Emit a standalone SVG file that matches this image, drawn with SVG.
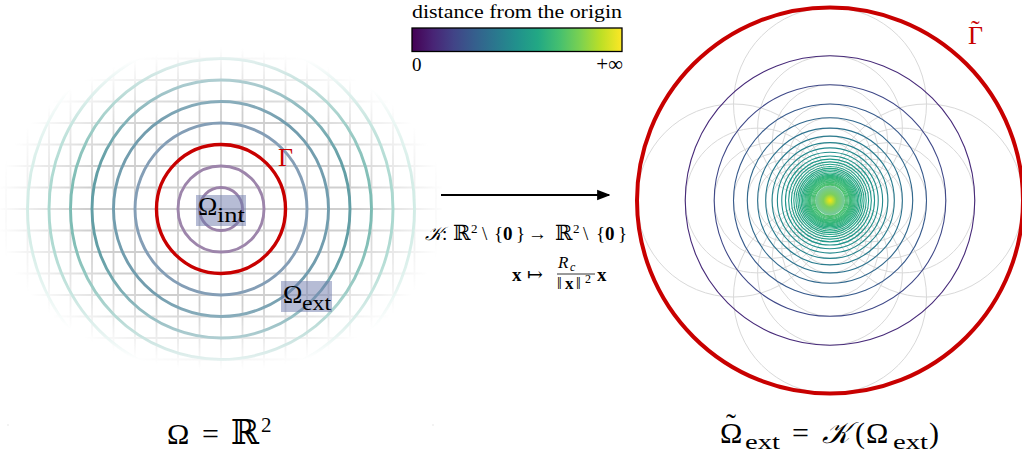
<svg xmlns="http://www.w3.org/2000/svg" width="1022" height="457" viewBox="0 0 1022 457">
<style>
.serif{font-family:"Liberation Serif","DejaVu Serif",serif;fill:#000}
.grid{stroke:#cfcfcf;stroke-width:1.8;fill:none}
.ring{fill:none;stroke-width:2.9}
.gray{fill:none;stroke:#d9d9d9;stroke-width:1}
.vc{fill:none;stroke-width:1.1}
.box{fill:#6e79ab;fill-opacity:0.5}
.red{fill:none;stroke:#c80000}
.redtext{fill:#c80000}
</style>
<defs>
<radialGradient id="fadeGrad" cx="0.5" cy="0.5" r="0.5">
<stop offset="0" stop-color="#fff"/>
<stop offset="0.6" stop-color="#fff"/>
<stop offset="1" stop-color="#000"/>
</radialGradient>
<mask id="fade" maskUnits="userSpaceOnUse" x="0" y="0" width="1022" height="457">
<rect x="-4" y="47" width="450" height="324" fill="url(#fadeGrad)"/>
</mask>
<linearGradient id="viridis" x1="0" y1="0" x2="1" y2="0">
<stop offset="0" stop-color="#440154"/>
<stop offset="0.1" stop-color="#482475"/>
<stop offset="0.2" stop-color="#414487"/>
<stop offset="0.3" stop-color="#355f8d"/>
<stop offset="0.4" stop-color="#2a788e"/>
<stop offset="0.5" stop-color="#21918c"/>
<stop offset="0.6" stop-color="#22a884"/>
<stop offset="0.7" stop-color="#44bf70"/>
<stop offset="0.8" stop-color="#7ad151"/>
<stop offset="0.9" stop-color="#bddf26"/>
<stop offset="1" stop-color="#fde725"/>
</linearGradient>
<radialGradient id="core" cx="0.5" cy="0.5" r="0.5">
<stop offset="0" stop-color="#f2e41c"/>
<stop offset="0.18" stop-color="#c6e02a"/>
<stop offset="0.45" stop-color="#7ccf5c"/>
<stop offset="1" stop-color="#74c9a0"/>
</radialGradient>
<marker id="arrow" viewBox="0 0 10 10" refX="9" refY="5" markerWidth="6" markerHeight="6" orient="auto" markerUnits="strokeWidth">
<path d="M0,1 L10,5 L0,9 Z" fill="#000"/>
</marker>
</defs>
<rect width="1022" height="457" fill="#fff"/>

<g id="left-panel">
<g mask="url(#fade)">
<path class="grid" d="M6 30V390M27.5 30V390M49 30V390M70.5 30V390M92 30V390M113.5 30V390M135 30V390M156.5 30V390M178 30V390M199.5 30V390M221 30V390M242.5 30V390M264 30V390M285.5 30V390M307 30V390M328.5 30V390M350 30V390M371.5 30V390M393 30V390M414.5 30V390M436 30V390M0 37H442M0 58.5H442M0 80H442M0 101.5H442M0 123H442M0 144.5H442M0 166H442M0 187.5H442M0 209H442M0 230.5H442M0 252H442M0 273.5H442M0 295H442M0 316.5H442M0 338H442M0 359.5H442M0 381H442"/>
<circle class="ring" cx="221" cy="209" r="21.5" stroke="#9b82a9"/>
<circle class="ring" cx="221" cy="209" r="43" stroke="#9d85ab"/>
<circle class="ring" cx="221" cy="209" r="86" stroke="#849eb6"/>
<circle class="ring" cx="221" cy="209" r="107.5" stroke="#729dae"/>
<circle class="ring" cx="221" cy="209" r="129" stroke="#629ea5"/>
<circle class="ring" cx="221" cy="209" r="150.5" stroke="#62aea4"/>
<circle class="ring" cx="221" cy="209" r="172" stroke="#70bdae"/>
<circle class="ring" cx="221" cy="209" r="193.5" stroke="#80c9b8"/>
</g>
<circle class="red" cx="221" cy="209" r="64.5" stroke-width="3.4"/>
<text class="serif redtext" x="278" y="166" font-size="26">Γ</text>
<g id="omega-int">
<rect class="box" x="196" y="195" width="50" height="31"/>
<text class="serif" font-size="26"><tspan x="198" y="215">Ω</tspan><tspan x="217" y="222" font-size="20" textLength="28" lengthAdjust="spacingAndGlyphs">int</tspan></text>
</g>
<g id="omega-ext">
<rect class="box" x="281" y="281" width="51" height="31"/>
<text class="serif" font-size="26"><tspan x="283" y="303">Ω</tspan><tspan x="302" y="310" font-size="20" textLength="29" lengthAdjust="spacingAndGlyphs">ext</tspan></text>
</g>
<rect x="7.5" y="424.5" width="1" height="1" fill="#d0d0d0"/>
<rect x="432.5" y="424.5" width="1" height="1" fill="#d0d0d0"/>
<text class="serif" font-size="30"><tspan x="167" y="444">Ω</tspan><tspan x="202" y="444">=</tspan><tspan x="231" y="444" font-size="34">ℝ</tspan><tspan x="261" y="432" font-size="21">2</tspan></text>
</g>

<g id="colorbar">
<text class="serif" x="412" y="18" font-size="18" textLength="210" lengthAdjust="spacingAndGlyphs">distance from the origin</text>
<rect x="412" y="28" width="210" height="23.5" fill="url(#viridis)" stroke="#000" stroke-width="1.3"/>
<text class="serif" x="412" y="71" font-size="19">0</text>
<text class="serif" x="623" y="71" font-size="21" text-anchor="end">+∞</text>
</g>

<g id="connectors">
<line x1="441" y1="195" x2="609" y2="195" stroke="#000" stroke-width="2.2" marker-end="url(#arrow)"/>
</g>

<g id="map-label">
<text class="serif" font-size="19"><tspan x="425" y="240" font-style="italic">𝒦</tspan><tspan x="442" y="240">:</tspan><tspan x="453" y="240" font-size="21">ℝ</tspan><tspan x="471" y="233" font-size="13">2</tspan><tspan x="482" y="240">\</tspan><tspan x="494" y="240">{</tspan><tspan x="503" y="240" font-weight="bold">0</tspan><tspan x="516" y="240">}</tspan><tspan x="528" y="240">→</tspan><tspan x="555" y="240" font-size="21">ℝ</tspan><tspan x="573" y="233" font-size="13">2</tspan><tspan x="583" y="240">\</tspan><tspan x="596" y="240">{</tspan><tspan x="605" y="240" font-weight="bold">0</tspan><tspan x="618" y="240">}</tspan></text>
<text class="serif" font-size="19"><tspan x="512" y="281" font-weight="bold">x</tspan><tspan x="527" y="281">↦</tspan><tspan x="558" y="268" font-style="italic" font-size="17">R</tspan><tspan x="570" y="271" font-style="italic" font-size="12">c</tspan><tspan x="557" y="289" font-size="17">‖</tspan><tspan x="565" y="289" font-size="17" font-weight="bold">x</tspan><tspan x="576" y="289" font-size="17">‖</tspan><tspan x="585" y="283" font-size="12">2</tspan><tspan x="597" y="281" font-weight="bold">x</tspan></text>
<line x1="557" y1="274" x2="595" y2="274" stroke="#000" stroke-width="0.8"/>
</g>

<g id="right-panel">
<g id="gray-circles">
<circle class="gray" cx="926.5" cy="200.5" r="96.5"/><circle class="gray" cx="733.5" cy="200.5" r="96.5"/><circle class="gray" cx="830" cy="104" r="96.5"/><circle class="gray" cx="830" cy="297" r="96.5"/>
<circle class="gray" cx="902.38" cy="200.5" r="72.38"/><circle class="gray" cx="757.62" cy="200.5" r="72.38"/><circle class="gray" cx="830" cy="128.12" r="72.38"/><circle class="gray" cx="830" cy="272.88" r="72.38"/>
<circle class="gray" cx="887.9" cy="200.5" r="57.9"/><circle class="gray" cx="772.1" cy="200.5" r="57.9"/><circle class="gray" cx="830" cy="142.6" r="57.9"/><circle class="gray" cx="830" cy="258.4" r="57.9"/>
<circle class="gray" cx="878.25" cy="200.5" r="48.25"/><circle class="gray" cx="781.75" cy="200.5" r="48.25"/><circle class="gray" cx="830" cy="152.25" r="48.25"/><circle class="gray" cx="830" cy="248.75" r="48.25"/>
<circle class="gray" cx="871.36" cy="200.5" r="41.36"/><circle class="gray" cx="788.64" cy="200.5" r="41.36"/><circle class="gray" cx="830" cy="159.14" r="41.36"/><circle class="gray" cx="830" cy="241.86" r="41.36"/>
<circle class="gray" cx="866.19" cy="200.5" r="36.19"/><circle class="gray" cx="793.81" cy="200.5" r="36.19"/><circle class="gray" cx="830" cy="164.31" r="36.19"/><circle class="gray" cx="830" cy="236.69" r="36.19"/>
<circle class="gray" cx="862.17" cy="200.5" r="32.17"/><circle class="gray" cx="797.83" cy="200.5" r="32.17"/><circle class="gray" cx="830" cy="168.33" r="32.17"/><circle class="gray" cx="830" cy="232.67" r="32.17"/>
<circle class="gray" cx="858.95" cy="200.5" r="28.95"/><circle class="gray" cx="801.05" cy="200.5" r="28.95"/><circle class="gray" cx="830" cy="171.55" r="28.95"/><circle class="gray" cx="830" cy="229.45" r="28.95"/>
</g>
<g id="image-circles">
<circle cx="830" cy="200.5" r="14.6" fill="url(#core)"/>
<circle class="vc" cx="830" cy="200.5" r="144.75" stroke="#472a79" stroke-width="1.5"/>
<circle class="vc" cx="830" cy="200.5" r="115.8" stroke="#3f4888" stroke-width="1.4"/>
<circle class="vc" cx="830" cy="200.5" r="96.5" stroke="#375a8c" stroke-width="1.3"/>
<circle class="vc" cx="830" cy="200.5" r="82.71" stroke="#31688d"/>
<circle class="vc" cx="830" cy="200.5" r="72.38" stroke="#2c728e"/>
<circle class="vc" cx="830" cy="200.5" r="64.33" stroke="#297b8e"/>
<circle class="vc" cx="830" cy="200.5" r="57.9" stroke="#26838d"/>
<circle class="vc" cx="830" cy="200.5" r="52.64" stroke="#24898d"/>
<circle class="vc" cx="830" cy="200.5" r="48.25" stroke="#228f8c"/>
<circle class="vc" cx="830" cy="200.5" r="44.54" stroke="#21948b"/>
<circle class="vc" cx="830" cy="200.5" r="41.36" stroke="#21988a"/>
<circle class="vc" cx="830" cy="200.5" r="38.6" stroke="#229c88"/>
<circle class="vc" cx="830" cy="200.5" r="36.19" stroke="#229f87"/>
<circle class="vc" cx="830" cy="200.5" r="34.06" stroke="#22a286"/>
<circle class="vc" cx="830" cy="200.5" r="32.17" stroke="#22a585" stroke-width="0.9"/>
<circle class="vc" cx="830" cy="200.5" r="30.47" stroke="#23a784" stroke-width="0.9"/>
<circle class="vc" cx="830" cy="200.5" r="28.95" stroke="#24a983" stroke-width="0.9"/>
<circle class="vc" cx="830" cy="200.5" r="27.57" stroke="#27ab81" stroke-width="0.8"/>
<circle class="vc" cx="830" cy="200.5" r="26.32" stroke="#2aae7f" stroke-width="0.8"/>
<circle class="vc" cx="830" cy="200.5" r="25.17" stroke="#2db07d" stroke-width="0.8"/>
<circle class="vc" cx="830" cy="200.5" r="24.13" stroke="#30b27b" stroke-width="0.7"/>
<circle class="vc" cx="830" cy="200.5" r="23.16" stroke="#32b37a" stroke-width="0.7"/>
<circle class="vc" cx="830" cy="200.5" r="22.27" stroke="#34b579" stroke-width="0.7"/>
<circle class="vc" cx="830" cy="200.5" r="21.44" stroke="#36b677" stroke-width="0.6"/>
<circle class="vc" cx="830" cy="200.5" r="20.68" stroke="#38b776" stroke-width="0.6"/>
<circle class="vc" cx="830" cy="200.5" r="19.97" stroke="#3bb975" stroke-width="0.6"/>
<circle class="vc" cx="830" cy="200.5" r="19.3" stroke="#3dba74" stroke-width="0.5"/>
<circle class="vc" cx="830" cy="200.5" r="18.09" stroke="#40bc72" stroke-width="0.5"/>
<circle class="vc" cx="830" cy="200.5" r="17.03" stroke="#43be70" stroke-width="0.5"/>
<circle class="vc" cx="830" cy="200.5" r="16.08" stroke="#47bf6e" stroke-width="0.5"/>
<circle class="vc" cx="830" cy="200.5" r="15.24" stroke="#4bc16c" stroke-width="0.5"/>
</g>
<circle class="red" cx="830" cy="200.5" r="193" stroke-width="4"/>
<g id="gamma-tilde-label">
<text class="serif redtext" font-size="26"><tspan x="968" y="44">Γ</tspan><tspan x="971" y="38">˜</tspan></text>
</g>
<g id="omega-ext-tilde-label">
<text class="serif" font-size="30"><tspan x="720" y="443">Ω</tspan><tspan x="726" y="434">˜</tspan><tspan x="745" y="449" font-size="22" textLength="35" lengthAdjust="spacingAndGlyphs">ext</tspan><tspan x="792" y="443">=</tspan><tspan x="822" y="443" font-style="italic">𝒦</tspan><tspan x="855" y="443">(</tspan><tspan x="866" y="443">Ω</tspan><tspan x="893" y="449" font-size="22" textLength="35" lengthAdjust="spacingAndGlyphs">ext</tspan><tspan x="929" y="443">)</tspan></text>
</g>
</g>
</svg>
